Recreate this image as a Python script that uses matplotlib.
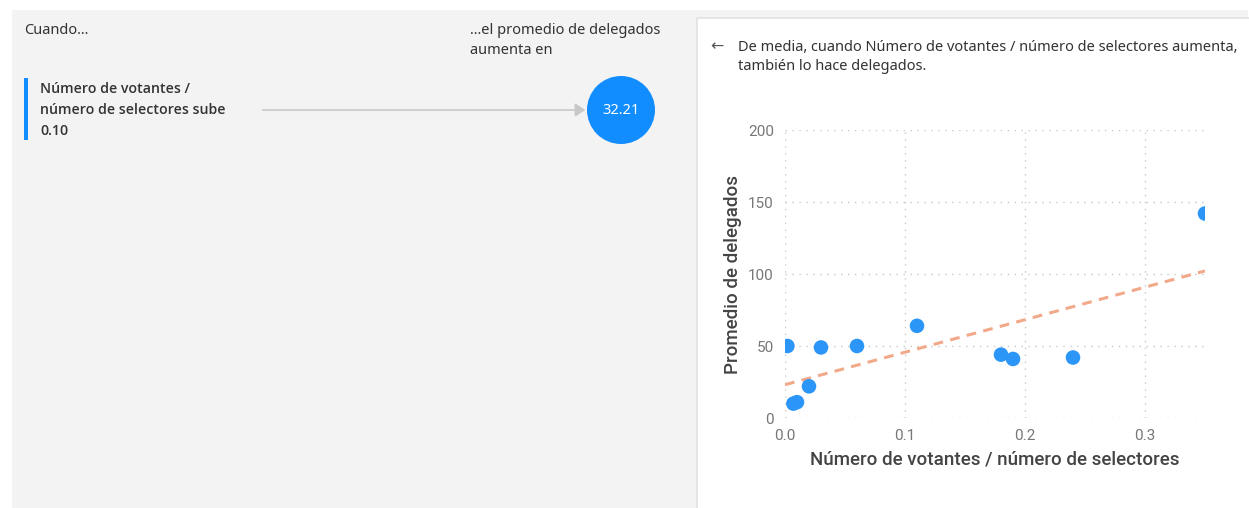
import matplotlib
matplotlib.use("Agg")
import matplotlib.pyplot as plt
from matplotlib.patches import Rectangle, Circle, FancyArrowPatch
import numpy as np

# ---- data ----
x_ratio = [0.002, 0.007, 0.010, 0.020, 0.030, 0.060, 0.110, 0.180, 0.190, 0.240, 0.350]
y_delegados = [50, 10, 11, 22, 49, 50, 64, 44, 41, 42, 142]
x_ticks = [0.0, 0.1, 0.2, 0.3]
x_ticklabels = ["0.0", "0.1", "0.2", "0.3"]
y_ticks = [0, 50, 100, 150, 200]
y_ticklabels = ["0", "50", "100", "150", "200"]
influence_value = "32.21"
step_value = "0.10"

W, H = 1249, 508
fig = plt.figure(figsize=(W / 100, H / 100), dpi=100)
fig.patch.set_facecolor("white")

def fx(x):
    return x / W

def fy(y):
    return 1 - y / H

TXT = "#333333"
FONT = "Noto Sans"
FS = 10.5

# background panels
fig.patches.append(Rectangle((fx(12), fy(508)), fx(1248) - fx(12), fy(10) - fy(508),
                             transform=fig.transFigure, facecolor="#f3f3f3", edgecolor="none", zorder=-3))
fig.patches.append(Rectangle((fx(697), fy(512)), fx(1256) - fx(697), fy(18) - fy(512),
                             transform=fig.transFigure, facecolor="white", edgecolor="#e2e2e2",
                             linewidth=1.2, zorder=-2))

# left panel texts
fig.text(fx(24), fy(30), "Cuando...", fontsize=FS, color=TXT, family=FONT, va="center", ha="left")
fig.text(fx(470), fy(30), "...el promedio de delegados", fontsize=FS, color=TXT, family=FONT, va="center")
fig.text(fx(470), fy(51), "aumenta en", fontsize=FS, color=TXT, family=FONT, va="center")

fig.patches.append(Rectangle((fx(24), fy(140)), fx(28) - fx(24), fy(78) - fy(140),
                             transform=fig.transFigure, facecolor="#118DFF", edgecolor="none", zorder=2))
for txt, yy in [("Número de votantes /", 89), ("número de selectores sube", 110), (step_value, 131)]:
    fig.text(fx(40), fy(yy), txt, fontsize=10.2, color=TXT, family="Open Sans",
             va="center", weight="semibold")

# arrow to circle
arr = FancyArrowPatch((fx(260), fy(110)), (fx(588), fy(110)), transform=fig.transFigure,
                      arrowstyle="-|>,head_length=6,head_width=4", color="#c8c8c8",
                      linewidth=1.2, zorder=2)
fig.patches.append(arr)

# circle with value (drawn on an overlay axes to keep it round)
cax = fig.add_axes([fx(587), fy(144), fx(655) - fx(587), fy(76) - fy(144)])
cax.set_xlim(-1, 1)
cax.set_ylim(-1, 1)
cax.set_aspect("equal")
cax.axis("off")
cax.add_patch(Circle((0, 0), 1.0, facecolor="#118DFF", edgecolor="none"))
cax.text(0, 0, influence_value, color="white", fontsize=10.5, family=FONT, ha="center", va="center")

# right panel header
fig.text(fx(710), fy(47), "←", fontsize=11.5, color="#555555", family="DejaVu Sans", va="center")
fig.text(fx(738), fy(47), "De media, cuando Número de votantes / número de selectores aumenta,",
         fontsize=FS, color=TXT, family=FONT, va="center")
fig.text(fx(738), fy(67), "también lo hace delegados.", fontsize=FS, color=TXT, family=FONT, va="center")

# scatter chart
ax = fig.add_axes([fx(785), fy(418), fx(1205) - fx(785), fy(130) - fy(418)])
ax.patch.set_alpha(0)
ax.set_xlim(0, 0.35)
ax.set_ylim(0, 200)

xa = np.array(x_ratio)
ya = np.array(y_delegados)
slope, intercept = np.polyfit(xa, ya, 1)
xl = np.array([0, 0.35])
ax.plot(xl, intercept + slope * xl, linestyle=(0, (3.2, 2.4)), color="#F2A98A", linewidth=2.2, zorder=2)
ax.scatter(xa, ya, s=110, color="#2B95F8", edgecolors="none", zorder=3)

ax.set_xticks(x_ticks)
ax.set_xticklabels(x_ticklabels)
ax.set_yticks(y_ticks)
ax.set_yticklabels(y_ticklabels)
ax.grid(True, linestyle=(0, (1, 4)), color="#c8c8c8", linewidth=1.0)
for s in ax.spines.values():
    s.set_visible(False)
ax.tick_params(length=0, labelsize=11, labelcolor="#777777", pad=8)
for lab in ax.get_xticklabels() + ax.get_yticklabels():
    lab.set_family("Roboto")
ax.set_xlabel("Número de votantes / número de selectores", fontsize=13.5, color="#444444",
              family="Roboto", weight="medium", labelpad=5)
ax.set_ylabel("Promedio de delegados", fontsize=13.5, color="#444444", family="Roboto",
              weight="medium", labelpad=4)

fig.savefig("out.png", dpi=100)
